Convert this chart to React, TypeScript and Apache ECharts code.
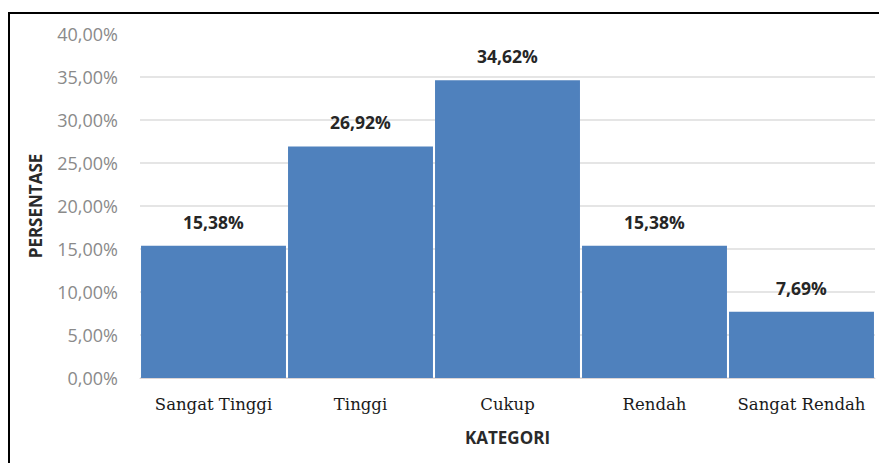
import React, { useEffect, useRef } from "react";
import * as echarts from "echarts";

const categories = ["Sangat Tinggi", "Tinggi", "Cukup", "Rendah", "Sangat Rendah"];
const values = [15.38, 26.92, 34.62, 15.38, 7.69];
const yMin = 0;
const yMax = 40;
const yInterval = 5;
const xName = "KATEGORI";
const yName = "PERSENTASE";

const fmt = (v: number) => v.toFixed(2).replace(".", ",") + "%";

export default function App() {
  const ref = useRef<HTMLDivElement>(null);
  useEffect(() => {
    if (!ref.current) return;
    const chart = echarts.init(ref.current, undefined, { renderer: "svg" });
    const gridColors = ["#dcdcdc", "#dcdcdc", "#dcdcdc", "#dcdcdc", "#dcdcdc", "#dcdcdc", "#dcdcdc", "#dcdcdc", "rgba(0,0,0,0)"];
    chart.setOption({
      animation: false,
      backgroundColor: "#ffffff",
      graphic: [
        {
          type: "rect",
          shape: { x: 9, y: 13, width: 900, height: 500 },
          style: { fill: "none", stroke: "#000000", lineWidth: 2 },
          silent: true,
        },
      ],
      grid: { left: 140, right: 4, top: 34, bottom: 85, containLabel: false },
      xAxis: {
        type: "category",
        data: categories,
        name: xName,
        nameLocation: "middle",
        nameGap: 51,
        nameTextStyle: { fontFamily: "Open Sans", fontWeight: "bold", fontSize: 17, color: "#2a2a2a" },
        axisLine: { show: true, lineStyle: { color: "#ddd5d5", width: 1 } },
        axisTick: { show: false },
        axisLabel: { interval: 0, fontFamily: "DejaVu Serif", fontSize: 16.5, color: "#1a1a1a", margin: 18 },
      },
      yAxis: {
        type: "value",
        min: yMin,
        max: yMax,
        interval: yInterval,
        name: yName,
        nameLocation: "middle",
        nameGap: 96,
        nameTextStyle: { fontFamily: "Open Sans", fontWeight: "bold", fontSize: 17, color: "#2a2a2a" },
        axisLine: { show: false },
        axisTick: { show: false },
        splitLine: { show: true, lineStyle: { color: gridColors, width: 1.5 } },
        axisLabel: {
          fontFamily: "Open Sans",
          fontSize: 18,
          color: "#8a8a8a",
          margin: 22,
          formatter: (v: number) => fmt(v),
        },
      },
      series: [
        {
          type: "bar",
          data: values,
          barCategoryGap: "1.4%",
          itemStyle: { color: "#4f81bd" },
          label: {
            show: true,
            position: "top",
            distance: 15,
            fontFamily: "Open Sans",
            fontWeight: "bold",
            fontSize: 17.5,
            color: "#262626",
            formatter: (p: any) => fmt(p.value),
          },
        },
      ],
    });
    return () => chart.dispose();
  }, []);
  return (
    <div
      ref={ref}
      style={{ position: "absolute", left: 0, top: 0, width: 879, height: 463 }}
    />
  );
}
